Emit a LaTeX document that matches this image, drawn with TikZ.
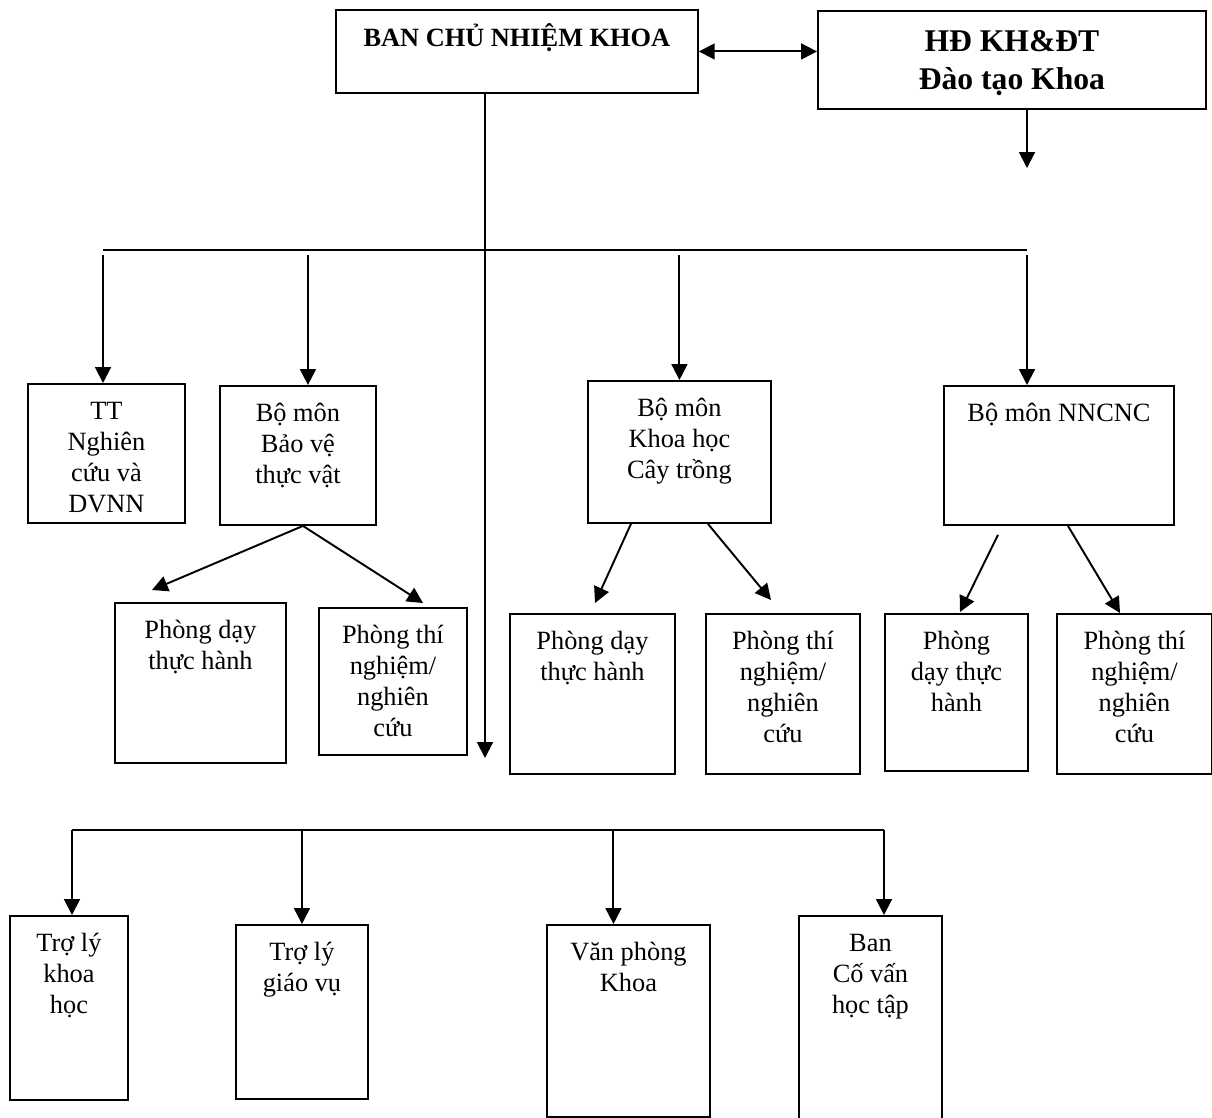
\documentclass[tikz,border=0pt]{standalone}
\usepackage{fontspec}
\setmainfont{Liberation Serif}
\usepackage{amsmath}
\usepackage{tikz}
\usetikzlibrary{arrows.meta}

\newlength{\pxunit}
\setlength{\pxunit}{0.2mm}
\newcommand{\boxlines}[3]{\parbox[t][#2\pxunit][t]{#1\pxunit}{\centering\vspace*{14\pxunit}\strut #3}}

\begin{document}
\begin{tikzpicture}[x=0.02cm, y=-0.02cm,
	box/.style={shape=rectangle, draw=black, line width=1.1pt, inner sep=0pt, anchor=north west, font=\fontsize{15}{17.6}\selectfont},
	link/.style={line width=1.1pt},
	>={Triangle[length=9pt,width=9pt]}]

	\useasboundingbox (0,0) rectangle (1212,1117);

	\node[box] (bcn) at (335,9)     {\boxlines{362}{83}{\textbf{BAN CHỦ NHIỆM KHOA}}};
	\node[box, font=\fontsize{18}{21.5}\selectfont\bfseries] (hd) at (817,10)     {\boxlines{388}{98}{HĐ KH\&ĐT\\Đào tạo Khoa}};

	\node[box] (tt) at (27,383)     {\boxlines{157}{139}{TT\\Nghiên\\cứu và\\DVNN}};
	\node[box] (bv) at (219,385)     {\boxlines{156}{139}{Bộ môn\\Bảo vệ\\thực vật}};
	\node[box] (kh) at (587,380)     {\boxlines{183}{142}{Bộ môn\\Khoa học\\Cây trồng}};
	\node[box] (nn) at (943,385)     {\boxlines{230}{139}{Bộ môn NNCNC}};

	\node[box] (pdbv) at (114,602)     {\boxlines{171}{160}{Phòng dạy\\thực hành}};
	\node[box] (ptbv) at (318,607)     {\boxlines{148}{147}{Phòng thí\\nghiệm/\\nghiên\\cứu}};
	\node[box] (pdkh) at (509,613)     {\boxlines{165}{160}{Phòng dạy\\thực hành}};
	\node[box] (ptkh) at (705,613)     {\boxlines{154}{160}{Phòng thí\\nghiệm/\\nghiên\\cứu}};
	\node[box] (pdnn) at (884,613)     {\boxlines{143}{157}{Phòng\\dạy thực\\hành}};
	\node[box] (ptnn) at (1056,613)     {\boxlines{155}{160}{Phòng thí\\nghiệm/\\nghiên\\cứu}};

	\node[box] (tlkh) at (9,915)     {\boxlines{118}{184}{Trợ lý\\khoa\\học}};
	\node[box] (tlgv) at (235,924)     {\boxlines{132}{174}{Trợ lý\\giáo vụ}};
	\node[box] (vp) at (546,924)     {\boxlines{163}{192}{Văn phòng\\Khoa}};
	\node[box] (ban) at (798,915)     {\boxlines{143}{215}{Ban\\Cố vấn\\học tập}};

	\coordinate (busa) at (103,250);
	\coordinate (busb) at (1027,250);
	\coordinate (busc) at (72,830);
	\coordinate (busd) at (884,830);
	\coordinate (hdend) at (1027,168);
	\coordinate (bcnend) at (485,758);
	\coordinate (bvin) at ([xshift=0.2cm]bv.north);
	\coordinate (vpin) at ([xshift=-0.3cm]vp.north);

	\coordinate (bvout) at ([xshift=0.1cm]bv.south);
	\coordinate (khoutl) at ([xshift=-0.97cm]kh.south);
	\coordinate (khoutr) at ([xshift=0.57cm]kh.south);
	\coordinate (nnoutl) at ([xshift=-1.22cm,yshift=-0.18cm]nn.south);
	\coordinate (nnoutr) at ([xshift=0.18cm]nn.south);
	\coordinate (pdbvtip) at (152,590);
	\coordinate (ptbvtip) at (423,603);
	\coordinate (pdkhtip) at (595,603);
	\coordinate (ptkhtip) at (771,600);
	\coordinate (pdnntip) at (960,612);
	\coordinate (ptnntip) at (1120,613);

	\path[link, <->] (bcn.east) edge (bcn.east -| hd.west);
	\path[link, ->] (hdend |- hd.south) edge (hdend);
	\path[link, ->] (bcnend |- bcn.south) edge (bcnend);

	\path[link] (busa) edge (busb);
	\path[link, ->, shorten <=0.1cm] (busa) edge (busa |- tt.north);
	\path[link, ->, shorten <=0.1cm] (bvin |- busa) edge (bvin);
	\path[link, ->, shorten <=0.1cm] (kh.north |- busa) edge (kh.north);
	\path[link, ->, shorten <=0.1cm] (busb) edge (busb |- nn.north);

	\path[link, ->] (bvout) edge (pdbvtip);
	\path[link, ->] (bvout) edge (ptbvtip);
	\path[link, ->] (khoutl) edge (pdkhtip);
	\path[link, ->] (khoutr) edge (ptkhtip);
	\path[link, ->] (nnoutl) edge (pdnntip);
	\path[link, ->] (nnoutr) edge (ptnntip);

	\path[link] (busc) edge (busd);
	\path[link, ->] (busc) edge (busc |- tlkh.north);
	\path[link, ->] (tlgv.north |- busc) edge (tlgv.north);
	\path[link, ->] (vpin |- busc) edge (vpin);
	\path[link, ->] (busd) edge (busd |- ban.north);

\end{tikzpicture}
\end{document}
